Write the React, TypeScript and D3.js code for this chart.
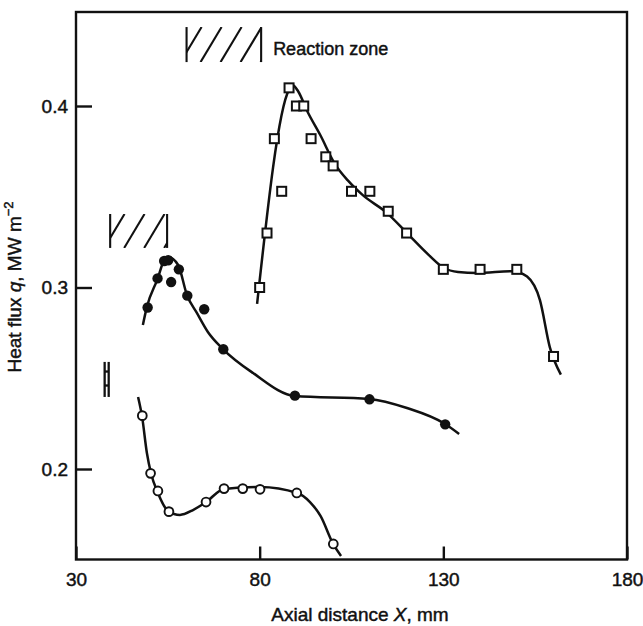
import { useRef, useEffect } from "react";
import * as d3 from "d3";

// tick values
const xTicks = [30, 80, 130, 180];
const yTicks = [0.2, 0.3, 0.4];

// open squares (upper run)
const squareX = [80, 82, 84, 86, 88, 90, 92, 94, 98, 100, 105, 110, 115, 120, 130, 140, 150, 160];
const squareQ = [0.3, 0.33, 0.382, 0.353, 0.41, 0.4, 0.4, 0.382, 0.372, 0.367, 0.353, 0.353, 0.342, 0.33, 0.31, 0.31, 0.31, 0.262];
const squareCurveX = [79.3, 88.0, 89.0, 90.5, 93, 96.5, 100.5, 104, 108, 114.7, 120.1, 126, 130, 134, 139.2, 149, 152.8, 156.3, 159, 162];
const squareCurveQ = [0.291, 0.409, 0.4115, 0.408, 0.397, 0.384, 0.368, 0.359, 0.351, 0.341, 0.33, 0.318, 0.311, 0.3085, 0.308, 0.309, 0.306, 0.293, 0.267, 0.252];

// filled circles (middle run)
const dotX = [49.5, 52.2, 54.0, 55.1, 55.9, 58.0, 60.3, 64.9, 70.1, 89.6, 109.9, 130.5];
const dotQ = [0.289, 0.305, 0.3146, 0.315, 0.303, 0.31, 0.2955, 0.288, 0.266, 0.2404, 0.2384, 0.2246];
const dotCurveX = [48.2, 49.3, 52.3, 54.0, 55.1, 57.8, 60.2, 62.9, 65.9, 70.0, 78.2, 89.6, 109.8, 120.1, 130.5, 134.3];
const dotCurveQ = [0.2793, 0.2893, 0.3052, 0.3152, 0.3168, 0.3124, 0.2959, 0.286, 0.2755, 0.2661, 0.2529, 0.2402, 0.2386, 0.2336, 0.2248, 0.2193];

// open circles (lower run)
const ringX = [48.05, 50.3, 52.3, 55.3, 65.4, 70.3, 75.4, 80.1, 90.1, 100.05];
const ringQ = [0.2294, 0.1976, 0.1879, 0.1765, 0.1818, 0.1892, 0.1892, 0.1888, 0.1868, 0.1587];
const ringCurveX = [46.9, 48.0, 49.3, 50.4, 52.3, 55.05, 58.3, 61.85, 65.4, 70.3, 80.1, 90.2, 93.7, 96.6, 100, 102.15];
const ringCurveQ = [0.2397, 0.2287, 0.2088, 0.1978, 0.1868, 0.1769, 0.1747, 0.1774, 0.1818, 0.189, 0.1901, 0.1868, 0.1818, 0.174, 0.1587, 0.1521];

// hatched reaction zones [x0, x1, q0, q1]
const zoneUpper = [60.1, 80.4, 0.4242, 0.4435];
const zoneLower = [39.3, 54.8, 0.3218, 0.3405];

// scatter indicator (double bar)
const barX = [37.8, 38.9];
const barQ = [0.2397, 0.259];
const barLinks = [0.246, 0.2537];

const W = 643;
const H = 626;
const font = "'Liberation Sans', Arial, Helvetica, sans-serif";
const ink = "#111";

const App = () => {
	const svgRef = useRef(null);

	useEffect(() => {
		const svg = d3.select(svgRef.current);
		svg.selectAll("*").remove();

		const x = d3.scaleLinear().domain([30, 180]).range([76, 627]);
		const y = d3.scaleLinear().domain([0.2, 0.4]).range([469, 106]);
		const yTop = y.invert(12);
		const yBot = y.invert(559.5);

		// text in the scan is printed heavy, so give it a thin outline
		const inkText = sel => sel
			.attr("fill", ink)
			.attr("stroke", ink)
			.attr("stroke-width", 0.45)
			.style("font-family", font)
			.style("font-size", "19px");

		// frame
		svg.append("rect")
			.attr("x", x(30))
			.attr("y", y(yTop))
			.attr("width", x(180) - x(30))
			.attr("height", y(yBot) - y(yTop))
			.attr("fill", "none")
			.attr("stroke", ink)
			.attr("stroke-width", 2.4);

		// axes
		const xAxis = d3.axisBottom(x)
			.tickValues(xTicks)
			.tickSizeInner(-13)
			.tickSizeOuter(0)
			.tickPadding(13)
			.tickFormat(d3.format("d"));
		const gx = svg.append("g")
			.attr("transform", `translate(0, ${y(yBot)})`)
			.call(xAxis);

		const yAxis = d3.axisLeft(y)
			.tickValues(yTicks)
			.tickSizeInner(-16)
			.tickSizeOuter(0)
			.tickPadding(8)
			.tickFormat(d3.format(".1f"));
		const gy = svg.append("g")
			.attr("transform", `translate(${x(30)}, 0)`)
			.call(yAxis);

		[gx, gy].forEach(g => {
			g.select(".domain").remove();
			g.selectAll("line").attr("stroke", ink).attr("stroke-width", 2.4);
			g.selectAll("text").call(inkText);
		});

		// axis titles
		svg.append("text")
			.attr("x", 360)
			.attr("y", 621)
			.attr("text-anchor", "middle")
			.call(inkText)
			.call(t => {
				t.append("tspan").text("Axial distance ");
				t.append("tspan").style("font-style", "italic").text("X");
				t.append("tspan").text(", mm");
			});

		svg.append("text")
			.attr("transform", `translate(21, 287) rotate(-90)`)
			.attr("text-anchor", "middle")
			.call(inkText)
			.call(t => {
				t.append("tspan").text("Heat flux ");
				t.append("tspan").style("font-style", "italic").text("q");
				t.append("tspan").text(", MW m");
				t.append("tspan").attr("dy", -8).style("font-size", "13px").text("\u22122");
			});

		// hatched zones
		const defs = svg.append("defs");
		const drawZone = (z, id) => {
			const x0 = x(z[0]), x1 = x(z[1]), yb = y(z[2]), yt = y(z[3]);
			defs.append("clipPath").attr("id", id)
				.append("rect")
				.attr("x", x0).attr("y", yt)
				.attr("width", x1 - x0).attr("height", yb - yt);
			const g = svg.append("g").attr("stroke", ink).attr("stroke-width", 2.1);
			const hatch = g.append("g").attr("clip-path", `url(#${id})`);
			const h = yb - yt;
			const dx = h * 0.6;
			const starts = d3.range(x0 - 6, x1, 20);
			hatch.selectAll("line").data(starts).join("line")
				.attr("x1", d => d).attr("y1", yb)
				.attr("x2", d => d + dx).attr("y2", yt);
			g.append("line").attr("x1", x0).attr("x2", x0).attr("y1", yt).attr("y2", yb);
			g.append("line").attr("x1", x1).attr("x2", x1).attr("y1", yt).attr("y2", yb);
		};
		drawZone(zoneUpper, "zoneA");
		drawZone(zoneLower, "zoneB");

		svg.append("text")
			.attr("x", x(zoneUpper[1]) + 12)
			.attr("y", 55)
			.call(inkText)
			.style("font-size", "18px")
			.text("Reaction zone");

		// scatter indicator
		const gb = svg.append("g").attr("stroke", ink).attr("stroke-width", 2.3);
		barX.forEach(bx => {
			gb.append("line")
				.attr("x1", x(bx)).attr("x2", x(bx))
				.attr("y1", y(barQ[0])).attr("y2", y(barQ[1]));
		});
		barLinks.forEach(bq => {
			gb.append("line")
				.attr("x1", x(barX[0])).attr("x2", x(barX[1]))
				.attr("y1", y(bq)).attr("y2", y(bq));
		});

		// curves
		const line = d3.line()
			.x(d => x(d[0]))
			.y(d => y(d[1]))
			.curve(d3.curveMonotoneX);
		const curves = [
			d3.zip(squareCurveX, squareCurveQ),
			d3.zip(dotCurveX, dotCurveQ),
			d3.zip(ringCurveX, ringCurveQ),
		];
		svg.append("g").selectAll("path").data(curves).join("path")
			.attr("d", line)
			.attr("fill", "none")
			.attr("stroke", ink)
			.attr("stroke-width", 2.5);

		// markers
		svg.append("g").selectAll("rect").data(d3.zip(squareX, squareQ)).join("rect")
			.attr("x", d => x(d[0]) - 4.5)
			.attr("y", d => y(d[1]) - 4.5)
			.attr("width", 9)
			.attr("height", 9)
			.attr("fill", "#fff")
			.attr("stroke", ink)
			.attr("stroke-width", 2);

		svg.append("g").selectAll("circle").data(d3.zip(dotX, dotQ)).join("circle")
			.attr("cx", d => x(d[0]))
			.attr("cy", d => y(d[1]))
			.attr("r", 5.2)
			.attr("fill", ink);

		svg.append("g").selectAll("circle").data(d3.zip(ringX, ringQ)).join("circle")
			.attr("cx", d => x(d[0]))
			.attr("cy", d => y(d[1]))
			.attr("r", 4.4)
			.attr("fill", "#fff")
			.attr("stroke", ink)
			.attr("stroke-width", 1.9);
	}, []);

	return (
		<svg
			ref={svgRef}
			width={W}
			height={H}
			style={{ position: "absolute", left: 0, top: 0, background: "#fff" }}
		></svg>
	);
};

export default App;
